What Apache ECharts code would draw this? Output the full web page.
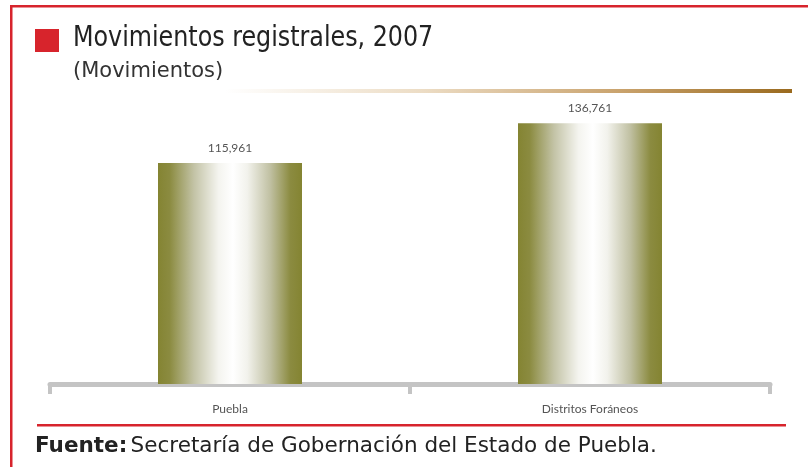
<!DOCTYPE html>
<html>
<head>
<meta charset="utf-8">
<script src="https://cdn.jsdelivr.net/npm/echarts@6/dist/echarts.min.js"></script>
<style>
  html, body { margin: 0; padding: 0; background: #fff; }
  #chart { width: 808px; height: 467px; }
</style>
</head>
<body>
<div id="chart"></div>
<script>
const categories = ['Puebla', 'Distritos Foráneos']
const valores = [115961, 136761]

const rojo = '#d7242c'

// degradado olivo -> blanco -> olivo de cada barra
const barGradient = new echarts.graphic.LinearGradient(0, 0, 1, 0, [
  {offset: 0, color: '#848432'},
  {offset: 0.08, color: '#8b8b40'},
  {offset: 0.25, color: '#c3c3a6'},
  {offset: 0.42, color: '#f4f4ef'},
  {offset: 0.52, color: '#ffffff'},
  {offset: 0.62, color: '#f2f2ec'},
  {offset: 0.78, color: '#c0c0a2'},
  {offset: 0.92, color: '#8b8b40'},
  {offset: 1, color: '#848432'}
])

let option = {
  backgroundColor: '#fff',
  animation: false,
  grid: {left: 50, right: 38, top: 98, bottom: 83},
  xAxis: {
    type: 'category',
    data: categories,
    offset: 3,
    axisLine: {show: true, lineStyle: {color: '#c4c4c4', width: 5}},
    axisTick: {show: true, length: 10, lineStyle: {color: '#c4c4c4', width: 4}},
    axisLabel: {
      margin: 16,
      fontFamily: 'Lato, sans-serif',
      fontSize: 12,
      color: '#555'
    }
  },
  yAxis: {
    type: 'value',
    min: 0,
    max: 150000,
    show: false
  },
  series: [{
    type: 'bar',
    data: valores,
    barWidth: 144,
    itemStyle: {color: barGradient},
    label: {
      show: true,
      position: 'top',
      distance: 9,
      fontFamily: 'Lato, sans-serif',
      fontSize: 12,
      color: '#555',
      formatter: function (p) {
        return p.value.toLocaleString('en-US')
      }
    }
  }],
  graphic: [
    // marco rojo
    {type: 'rect', shape: {x: 10, y: 5, width: 800, height: 2.5}, style: {fill: rojo}},
    {type: 'rect', shape: {x: 10, y: 5, width: 2.5, height: 470}, style: {fill: rojo}},
    // cuadro rojo del titulo
    {type: 'rect', shape: {x: 35, y: 29, width: 24, height: 23}, style: {fill: rojo}},
    // titulo y subtitulo
    {
      type: 'text',
      x: 73,
      y: 25,
      scaleX: 0.945,
      style: {
        text: 'Movimientos registrales, 2007',
        font: '28px "DejaVu Sans Condensed", "DejaVu Sans", sans-serif',
        fill: '#222'
      }
    },
    {
      type: 'text',
      x: 73,
      y: 61,
      style: {
        text: '(Movimientos)',
        font: '21px "DejaVu Sans", sans-serif',
        fill: '#333'
      }
    },
    // linea dorada bajo el subtitulo
    {
      type: 'rect',
      shape: {x: 225, y: 89, width: 567, height: 4},
      style: {
        fill: new echarts.graphic.LinearGradient(0, 0, 1, 0, [
          {offset: 0, color: '#ffffff'},
          {offset: 0.35, color: '#ecdcc4'},
          {offset: 0.7, color: '#c9a26c'},
          {offset: 1, color: '#9a6a1e'}
        ])
      }
    },
    // separador de la fuente
    {type: 'rect', shape: {x: 37, y: 424, width: 749, height: 2.5}, style: {fill: rojo}},
    {
      type: 'text',
      x: 35,
      y: 435,
      style: {
        rich: {
          b: {fontFamily: '"DejaVu Sans", Verdana, sans-serif', fontSize: 21.5, fontWeight: 'bold', fill: '#222'},
          n: {fontFamily: '"DejaVu Sans", Verdana, sans-serif', fontSize: 21.5, fill: '#222'}
        },
        text: '{b|Fuente:} {n|Secretaría de Gobernación del Estado de Puebla.}'
      }
    }
  ]
}

let chart = echarts.init(document.getElementById('chart'))
chart.setOption(option)
</script>
</body>
</html>
